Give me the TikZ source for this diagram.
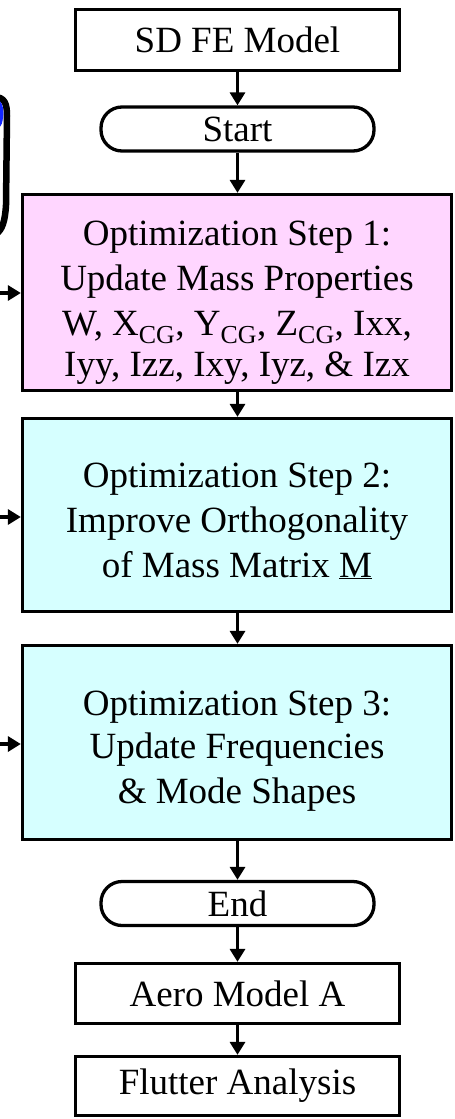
\documentclass[tikz,border=0pt]{standalone}
\usepackage{fontspec}
\setmainfont{Liberation Serif}
\usetikzlibrary{arrows.meta}
\definecolor{pinkfill}{RGB}{255,214,255}
\definecolor{cyanfill}{RGB}{214,255,255}
\definecolor{blobblue}{RGB}{20,40,255}
\begin{document}
\begin{tikzpicture}[x=1pt,y=-1pt,
  every node/.style={font=\fontsize{37}{45}\selectfont, inner sep=0pt, align=center},
  boxnode/.style={draw, line width=3.3pt, fill=white},
  termnode/.style={draw, line width=3.3pt, rounded corners=21pt, fill=white,
    minimum width=273pt, minimum height=44pt},
  arr/.style={line width=3.3pt, -{Triangle[width=15pt,length=13pt]}}]
\useasboundingbox (0,0) rectangle (455,1119);
% partial shape at left edge
\begin{scope}
\clip (0,0) rectangle (455,1119);
\draw[line width=6.5pt, line cap=round] (-6,97) .. controls (5,97) and (7,104) .. (7,116)
  -- (6,205) .. controls (5,222) and (2,230) .. (-4,234);
\fill[blobblue] (-1,100) .. controls (3,104) and (4,110) .. (3,118)
  .. controls (2,124) .. (-1,128) -- cycle;
\end{scope}
% nodes
\node[boxnode, minimum width=324pt, minimum height=61pt] (sd) at (237.5,40) {SD FE Model};
\node[termnode] (start) at (237.5,129) {Start};
\node[boxnode, fill=pinkfill, minimum width=429pt, minimum height=196pt] (p1) at (237,292.5)
  {\rule{0pt}{44pt}Optimization Step 1:\\Update Mass Properties\\W, X\textsubscript{CG}, Y\textsubscript{CG}, Z\textsubscript{CG}, Ixx,\\[-4pt]Iyy, Izz, Ixy, Iyz, \& Izx};
\node[boxnode, fill=cyanfill, minimum width=429pt, minimum height=193pt] (c2) at (237,515)
  {\rule{0pt}{36pt}Optimization Step 2:\\Improve Orthogonality\\of Mass Matrix \underline{M}};
\node[boxnode, fill=cyanfill, minimum width=429pt, minimum height=194pt] (c3) at (237,742.5)
  {\rule{0pt}{41pt}Optimization Step 3:\\[-2pt]Update Frequencies\\\& Mode Shapes};
\node[termnode] (end) at (237.5,903.5) {End};
\node[boxnode, minimum width=324pt, minimum height=60pt] (aero) at (237.5,993.5) {Aero Model A};
\node[boxnode, minimum width=324pt, minimum height=59pt] (flut) at (237.5,1086) {Flutter Analysis};
% vertical connectors
\draw[arr] (sd.south) -- (start.north);
\draw[arr] (start.south) -- (start.south |- p1.north);
\draw[arr] (start.south |- p1.south) -- (start.south |- c2.north);
\draw[arr] (start.south |- c2.south) -- (start.south |- c3.north);
\draw[arr] (start.south |- c3.south) -- (end.north);
\draw[arr] (end.south) -- (aero.north);
\draw[arr] (aero.south) -- (flut.north);
% left incoming arrows
\coordinate (l1) at (0,293);
\coordinate (l2) at (0,517);
\coordinate (l3) at (0,744);
\draw[arr] (l1) -- (l1 -| p1.west);
\draw[arr] (l2) -- (l2 -| c2.west);
\draw[arr] (l3) -- (l3 -| c3.west);
\end{tikzpicture}
\end{document}
